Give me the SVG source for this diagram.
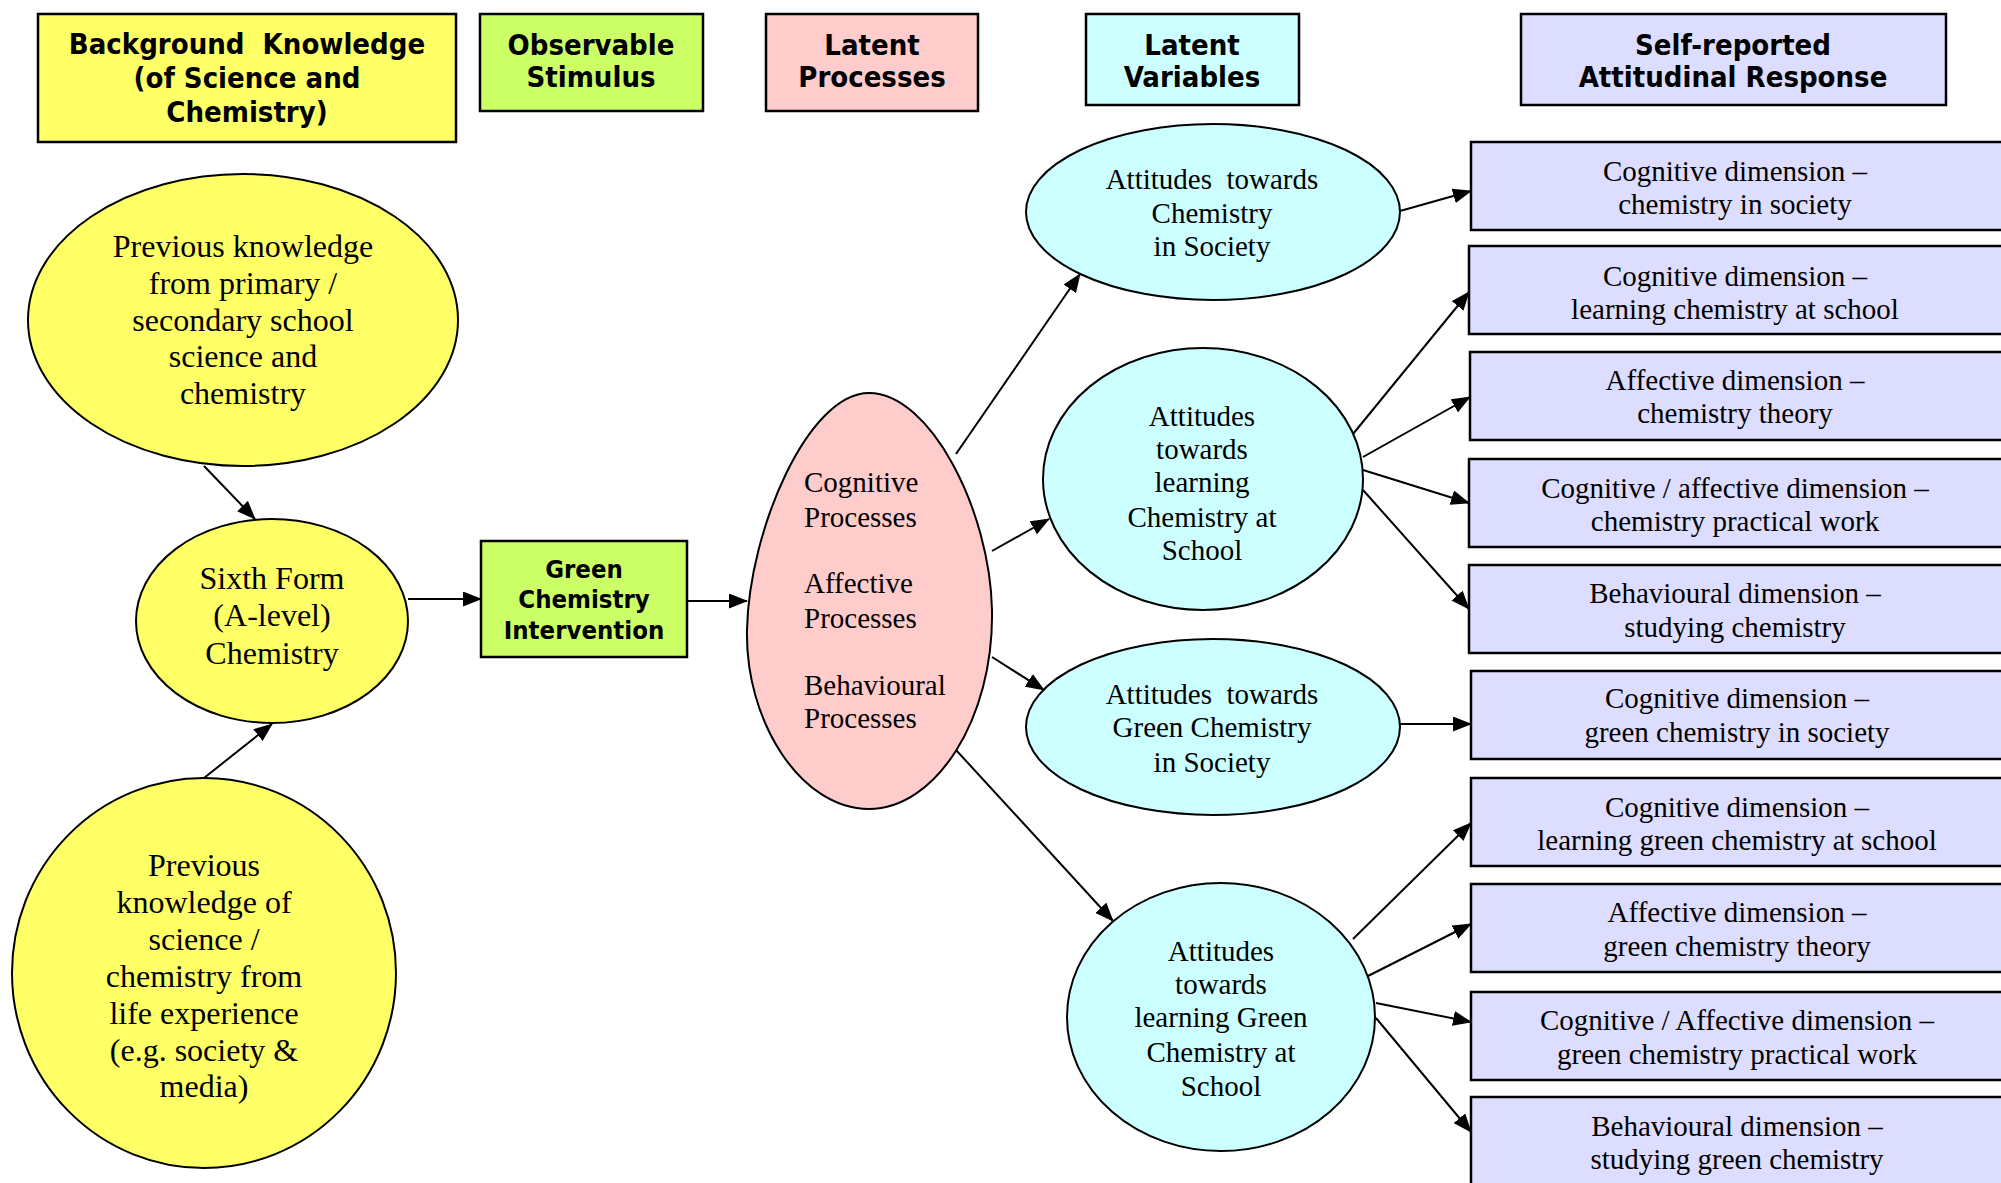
<svg xmlns="http://www.w3.org/2000/svg" width="2001" height="1183" viewBox="0 0 2001 1183">
<style>
.hdr{font-family:"DejaVu Sans Condensed","DejaVu Sans",Verdana,sans-serif;font-stretch:condensed;font-weight:bold;font-size:29px;text-anchor:middle;fill:#000;white-space:pre}
.gi{font-family:"DejaVu Sans Condensed","DejaVu Sans",Verdana,sans-serif;font-stretch:condensed;font-weight:bold;font-size:25.5px;text-anchor:middle;fill:#000}
.big{font-family:"Liberation Serif","Times New Roman",serif;font-size:32px;text-anchor:middle;fill:#000;white-space:pre}
.mid{font-family:"Liberation Serif","Times New Roman",serif;font-size:29px;text-anchor:middle;fill:#000;white-space:pre}
.lft{font-family:"Liberation Serif","Times New Roman",serif;font-size:29px;fill:#000}
.box{stroke:#000;stroke-width:2.5}
.shape{stroke:#000;stroke-width:2}
.yel{fill:#FFFF66}.grn{fill:#CCFF66}.pnk{fill:#FFCCCC}.cyn{fill:#CCFFFF}.lav{fill:#DDDDFF}
.conn line{stroke:#000;stroke-width:2;marker-end:url(#arr)}
</style>
<defs>
<marker id="arr" markerUnits="userSpaceOnUse" markerWidth="19" markerHeight="15" refX="18" refY="7.5" orient="auto">
<path d="M0,0 L19,7.5 L0,15 z" fill="#000"/>
</marker>
</defs>
<rect width="2001" height="1183" fill="#fff"/>

<g id="hdr-background">
<rect class="box yel" x="38" y="14" width="418" height="128"/>
<text class="hdr" x="247" y="54">Background  Knowledge</text>
<text class="hdr" x="247" y="88">(of Science and</text>
<text class="hdr" x="247" y="122">Chemistry)</text>
</g>
<g id="hdr-observable">
<rect class="box grn" x="480" y="14" width="223" height="97"/>
<text class="hdr" x="591" y="55">Observable</text>
<text class="hdr" x="591" y="87">Stimulus</text>
</g>
<g id="hdr-latent-processes">
<rect class="box pnk" x="766" y="14" width="212" height="97"/>
<text class="hdr" x="872" y="55">Latent</text>
<text class="hdr" x="872" y="87">Processes</text>
</g>
<g id="hdr-latent-variables">
<rect class="box cyn" x="1086" y="14" width="213" height="91"/>
<text class="hdr" x="1192" y="55">Latent</text>
<text class="hdr" x="1192" y="87">Variables</text>
</g>
<g id="hdr-self-reported">
<rect class="box lav" x="1521" y="14" width="425" height="91"/>
<text class="hdr" x="1733" y="55">Self-reported</text>
<text class="hdr" x="1733" y="87">Attitudinal Response</text>
</g>

<g id="prev-primary">
<ellipse class="shape yel" cx="243" cy="320" rx="215" ry="146"/>
<text class="big" x="243" y="257">Previous knowledge</text>
<text class="big" x="243" y="294">from primary /</text>
<text class="big" x="243" y="331">secondary school</text>
<text class="big" x="243" y="367">science and</text>
<text class="big" x="243" y="404">chemistry</text>
</g>
<g id="sixth-form">
<ellipse class="shape yel" cx="272" cy="621" rx="136" ry="102"/>
<text class="big" x="272" y="589">Sixth Form</text>
<text class="big" x="272" y="626">(A-level)</text>
<text class="big" x="272" y="664">Chemistry</text>
</g>
<g id="prev-life">
<ellipse class="shape yel" cx="204" cy="973" rx="192" ry="195"/>
<text class="big" x="204" y="876">Previous</text>
<text class="big" x="204" y="913">knowledge of</text>
<text class="big" x="204" y="950">science /</text>
<text class="big" x="204" y="987">chemistry from</text>
<text class="big" x="204" y="1024">life experience</text>
<text class="big" x="204" y="1061">(e.g. society &amp;</text>
<text class="big" x="204" y="1097">media)</text>
</g>
<g id="green-intervention">
<rect class="box grn" x="481" y="541" width="206" height="116"/>
<text class="gi" x="584" y="578">Green</text>
<text class="gi" x="584" y="608">Chemistry</text>
<text class="gi" x="584" y="639">Intervention</text>
</g>
<g id="latent-processes">
<path class="shape pnk" d="M869,393 C930,393 990,510 992,610 C994,720 935,809 869,809 C800,809 745,720 747,630 C749,530 808,393 869,393 Z"/>
<text class="lft" x="804" y="492">Cognitive</text>
<text class="lft" x="804" y="527">Processes</text>
<text class="lft" x="804" y="593">Affective</text>
<text class="lft" x="804" y="628">Processes</text>
<text class="lft" x="804" y="695">Behavioural</text>
<text class="lft" x="804" y="728">Processes</text>
</g>
<g id="att-chem-society">
<ellipse class="shape cyn" cx="1213" cy="212" rx="187" ry="88"/>
<text class="mid" x="1212" y="189">Attitudes  towards</text>
<text class="mid" x="1212" y="223">Chemistry</text>
<text class="mid" x="1212" y="256">in Society</text>
</g>
<g id="att-learn-chem">
<ellipse class="shape cyn" cx="1203" cy="479" rx="160" ry="131"/>
<text class="mid" x="1202" y="426">Attitudes</text>
<text class="mid" x="1202" y="459">towards</text>
<text class="mid" x="1202" y="492">learning</text>
<text class="mid" x="1202" y="527">Chemistry at</text>
<text class="mid" x="1202" y="560">School</text>
</g>
<g id="att-green-society">
<ellipse class="shape cyn" cx="1213" cy="727" rx="187" ry="88"/>
<text class="mid" x="1212" y="704">Attitudes  towards</text>
<text class="mid" x="1212" y="737">Green Chemistry</text>
<text class="mid" x="1212" y="772">in Society</text>
</g>
<g id="att-learn-green">
<ellipse class="shape cyn" cx="1221" cy="1017" rx="154" ry="134"/>
<text class="mid" x="1221" y="961">Attitudes</text>
<text class="mid" x="1221" y="994">towards</text>
<text class="mid" x="1221" y="1027">learning Green</text>
<text class="mid" x="1221" y="1062">Chemistry at</text>
<text class="mid" x="1221" y="1096">School</text>
</g>

<g id="resp-1"><rect class="box lav" x="1471" y="142" width="540" height="88"/>
<text class="mid" x="1735" y="181">Cognitive dimension –</text><text class="mid" x="1735" y="214">chemistry in society</text></g>
<g id="resp-2"><rect class="box lav" x="1469" y="246" width="540" height="88"/>
<text class="mid" x="1735" y="286">Cognitive dimension –</text><text class="mid" x="1735" y="319">learning chemistry at school</text></g>
<g id="resp-3"><rect class="box lav" x="1470" y="352" width="540" height="88"/>
<text class="mid" x="1735" y="390">Affective dimension –</text><text class="mid" x="1735" y="423">chemistry theory</text></g>
<g id="resp-4"><rect class="box lav" x="1469" y="459" width="540" height="88"/>
<text class="mid" x="1735" y="498">Cognitive / affective dimension –</text><text class="mid" x="1735" y="531">chemistry practical work</text></g>
<g id="resp-5"><rect class="box lav" x="1469" y="565" width="540" height="88"/>
<text class="mid" x="1735" y="603">Behavioural dimension –</text><text class="mid" x="1735" y="637">studying chemistry</text></g>
<g id="resp-6"><rect class="box lav" x="1471" y="671" width="540" height="88"/>
<text class="mid" x="1737" y="708">Cognitive dimension –</text><text class="mid" x="1737" y="742">green chemistry in society</text></g>
<g id="resp-7"><rect class="box lav" x="1471" y="778" width="540" height="88"/>
<text class="mid" x="1737" y="817">Cognitive dimension –</text><text class="mid" x="1737" y="850">learning green chemistry at school</text></g>
<g id="resp-8"><rect class="box lav" x="1471" y="884" width="540" height="88"/>
<text class="mid" x="1737" y="922">Affective dimension –</text><text class="mid" x="1737" y="956">green chemistry theory</text></g>
<g id="resp-9"><rect class="box lav" x="1471" y="992" width="540" height="88"/>
<text class="mid" x="1737" y="1030">Cognitive / Affective dimension –</text><text class="mid" x="1737" y="1064">green chemistry practical work</text></g>
<g id="resp-10"><rect class="box lav" x="1471" y="1097" width="540" height="100"/>
<text class="mid" x="1737" y="1136">Behavioural dimension –</text><text class="mid" x="1737" y="1169">studying green chemistry</text></g>

<g id="connectors" class="conn">
<line x1="204" y1="466" x2="255" y2="519"/>
<line x1="204" y1="778" x2="272" y2="724"/>
<line x1="408" y1="599" x2="481" y2="599"/>
<line x1="687" y1="601" x2="747" y2="601"/>
<line x1="956" y1="454" x2="1080" y2="274"/>
<line x1="992" y1="551" x2="1049" y2="519"/>
<line x1="992" y1="657" x2="1044" y2="690"/>
<line x1="956" y1="750" x2="1113" y2="921"/>
<line x1="1400" y1="211" x2="1471" y2="191"/>
<line x1="1353" y1="434" x2="1469" y2="292"/>
<line x1="1363" y1="457" x2="1470" y2="397"/>
<line x1="1363" y1="470" x2="1469" y2="503"/>
<line x1="1363" y1="490" x2="1469" y2="609"/>
<line x1="1400" y1="724" x2="1471" y2="724"/>
<line x1="1353" y1="939" x2="1471" y2="823"/>
<line x1="1368" y1="976" x2="1471" y2="924"/>
<line x1="1376" y1="1003" x2="1471" y2="1022"/>
<line x1="1376" y1="1018" x2="1471" y2="1132"/>
</g>
</svg>
